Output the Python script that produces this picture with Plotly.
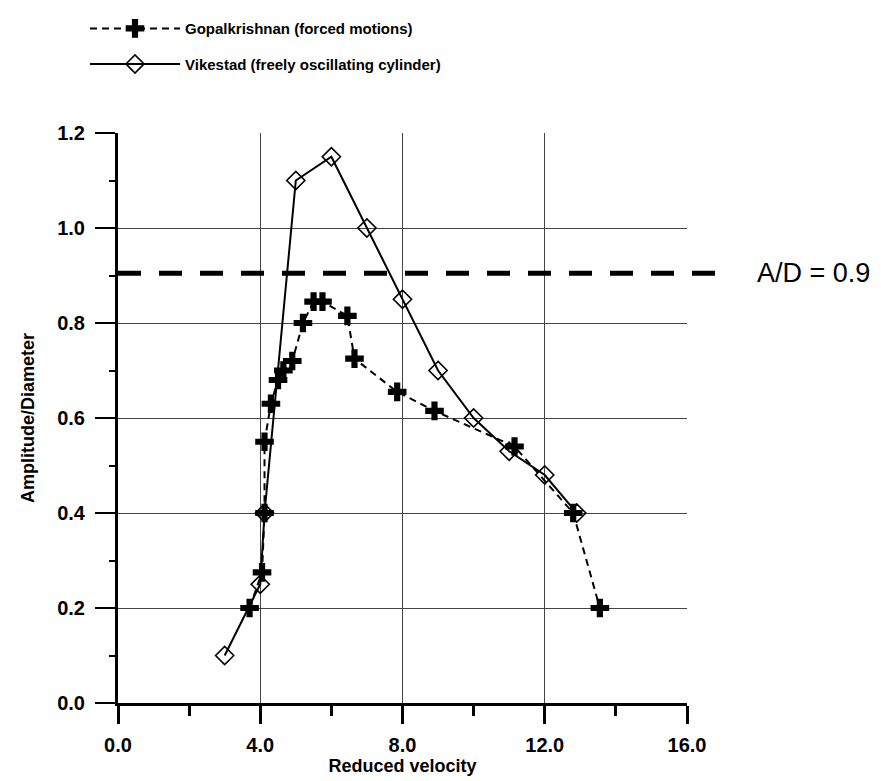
import plotly.graph_objects as go

# Gopalkrishnan (forced motions)
gop_x = [3.7, 4.05, 4.12, 4.12, 4.3, 4.5, 4.65, 4.9, 5.2, 5.5, 5.75, 6.45, 6.65, 7.85, 8.9, 11.15, 12.8, 13.55]
gop_y = [0.20, 0.275, 0.40, 0.55, 0.63, 0.68, 0.70, 0.72, 0.80, 0.845, 0.845, 0.815, 0.725, 0.655, 0.615, 0.54, 0.40, 0.20]

# Vikestad (freely oscillating cylinder)
vik_x = [3.0, 4.0, 4.12, 5.0, 6.0, 7.0, 8.0, 9.0, 10.0, 11.0, 12.0, 12.9]
vik_y = [0.10, 0.25, 0.40, 1.10, 1.15, 1.00, 0.85, 0.70, 0.60, 0.53, 0.48, 0.40]

ad_value = 0.905
ad_label = "A/D = 0.9"

x_ticks = [0, 4, 8, 12, 16]
x_ticktext = ["0.0", "4.0", "8.0", "12.0", "16.0"]
y_ticks = [0.0, 0.2, 0.4, 0.6, 0.8, 1.0, 1.2]
y_ticktext = ["0.0", "0.2", "0.4", "0.6", "0.8", "1.0", "1.2"]

FONT = "Arial, Liberation Sans, sans-serif"

fig = go.Figure()
fig.add_trace(go.Scatter(
    x=gop_x, y=gop_y, mode="lines+markers",
    name="Gopalkrishnan (forced motions)", legendgroup="g1",
    line=dict(color="black", width=2, dash="7px,5px"),
    marker=dict(symbol="cross", size=15.5, color="black", line=dict(width=0)),
))
fig.add_trace(go.Scatter(
    x=vik_x, y=vik_y, mode="lines+markers",
    name="Vikestad (freely oscillating cylinder)", legendgroup="g2",
    line=dict(color="black", width=2),
    marker=dict(symbol="diamond-open", size=14, color="black", line=dict(width=1.6, color="black")),
))

fig.add_shape(type="line", xref="paper", yref="y", x0=0, x1=1.075, y0=ad_value, y1=ad_value,
              line=dict(color="black", width=5, dash="23px,18px"), layer="above")
fig.add_annotation(xref="paper", yref="y", x=1.12, y=ad_value, text=ad_label, showarrow=False,
                   xanchor="left", yanchor="middle", font=dict(family=FONT, size=27, color="black"))

fig.update_layout(
    width=881, height=781,
    margin=dict(l=118, r=194, t=133, b=78, autoexpand=False),
    paper_bgcolor="white", plot_bgcolor="white",
    font=dict(family=FONT, color="black"),
    showlegend=True,
    legend=dict(x=-0.058, y=1.212, xanchor="left", yanchor="top", xref="paper", yref="paper",
                font=dict(family=FONT, size=15, color="black", weight="bold"),
                itemwidth=90, tracegroupgap=13, bgcolor="rgba(0,0,0,0)"),
)

fig.update_xaxes(
    range=[0, 16], tickmode="array", tickvals=x_ticks, ticktext=x_ticktext,
    showline=True, linecolor="black", linewidth=3,
    ticks="outside", ticklen=18, tickwidth=3, tickcolor="black",
    minor=dict(ticks="outside", ticklen=10, tickwidth=3, tickcolor="black", dtick=2, showgrid=False),
    showgrid=True, gridcolor="#444444", gridwidth=1, zeroline=False,
    tickfont=dict(family=FONT, size=20, color="black", weight="bold"),
    ticklabelstandoff=4,
    title=dict(text="Reduced velocity", font=dict(family=FONT, size=18, color="black", weight="bold"), standoff=4),
)
fig.update_yaxes(
    range=[0, 1.2], tickmode="array", tickvals=y_ticks, ticktext=y_ticktext,
    showline=True, linecolor="black", linewidth=3,
    ticks="outside", ticklen=20, tickwidth=2, tickcolor="black",
    minor=dict(ticks="outside", ticklen=6, tickwidth=2, tickcolor="black", dtick=0.1, showgrid=False),
    showgrid=True, gridcolor="#444444", gridwidth=1, zeroline=False,
    tickfont=dict(family=FONT, size=20, color="black", weight="bold"),
    ticklabelstandoff=6,
    title=dict(text="Amplitude/Diameter", font=dict(family=FONT, size=18, color="black", weight="bold"), standoff=18),
)

fig.write_html("out.html")
